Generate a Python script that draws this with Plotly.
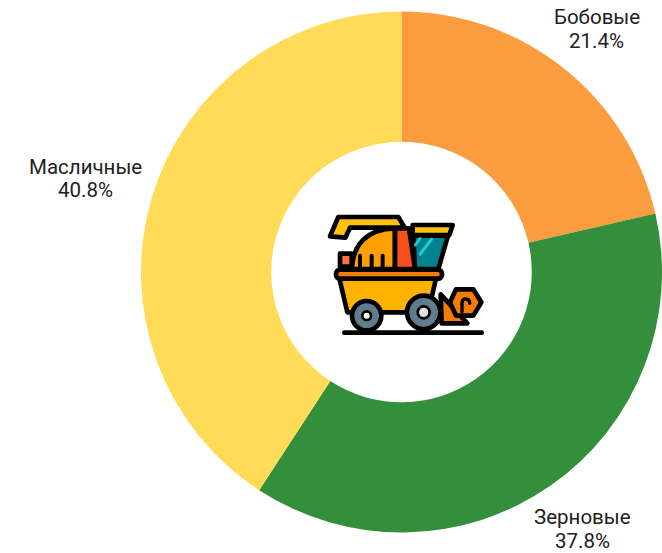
import base64
import plotly.graph_objects as go

# Crop groups and their shares of the sown area, percent
crops = ["Бобовые", "Зерновые", "Масличные"]
shares = [21.4, 37.8, 40.8]
colors = ["#FB9D3F", "#348F3C", "#FFDB58"]

# Pixel centres of each caption: name line, then value line
caption_x = [596.5, 582.5, 85]
name_y = [17, 517, 167]
value_y = [41, 540.5, 190]

# Harvester pictogram placed in the hole of the donut
HARVESTER_SVG = """
<svg xmlns="http://www.w3.org/2000/svg" viewBox="0 0 570 450" width="570" height="450">
<defs><filter id="s"><feGaussianBlur stdDeviation="2.2"/></filter></defs>
<g filter="url(#s)" stroke="#000" stroke-width="14" stroke-linejoin="round" stroke-linecap="round">
<path d="M103 413H515" fill="none"/>
<path d="M60 124L85 66H265L284 98H120L106 128Z" fill="#FFC107"/>
<path d="M90 215V176H125V215Z" fill="#FF7043"/>
<path d="M126 222C128 150 170 102 255 100V222Z" fill="#FFA000"/>
<path d="M150 215V182M185 215V182M218 215V182" fill="none" stroke-width="12"/>
<path d="M255 100H297L315 222H255Z" fill="#F4511E"/>
<path d="M310 122H414L385 222H315Z" fill="#00838F"/>
<path d="M316 150L330 130M330 178L365 132" fill="none" stroke="#26C6DA" stroke-width="9"/>
<path d="M308 90H428L418 120H308Z" fill="#FFC107"/>
<path d="M392 298L472 385H395Z" fill="#F57C00"/>
<path d="M438 283H490L514 322L490 362H438L420 322Z" fill="#F57C00"/>
<path d="M456 350V324Q456 312 467 312Q479 312 479 325" fill="none" stroke-width="10"/>
<path d="M88 250H378L355 352H112Z" fill="#FFB300"/>
<rect x="78" y="224" width="318" height="27" rx="12" fill="#F57C00"/>
<circle cx="170" cy="362" r="44" fill="#607D8B"/>
<circle cx="170" cy="362" r="13" fill="#fff" stroke-width="8"/>
<circle cx="341" cy="352" r="50" fill="#607D8B"/>
<circle cx="341" cy="352" r="18" fill="#E0E0E0" stroke-width="8"/>
</g></svg>
"""
icon_uri = "data:image/svg+xml;base64," + base64.b64encode(HARVESTER_SVG.encode()).decode()

WIDTH, HEIGHT = 662, 553
LABEL_FONT = dict(family="Roboto", size=20.5, color="#212121")


def caption(text, px, py):
    """Single centred text line positioned in pixels from the top-left corner."""
    return dict(
        text=text,
        xref="paper",
        yref="paper",
        x=px / WIDTH,
        y=1 - py / HEIGHT,
        xanchor="center",
        yanchor="middle",
        showarrow=False,
        font=LABEL_FONT,
    )


annotations = []
for crop, share, cx, ny, vy in zip(crops, shares, caption_x, name_y, value_y):
    annotations.append(caption(crop, cx, ny))
    annotations.append(caption(f"{share}%", cx, vy))

fig = go.Figure(
    go.Pie(
        labels=crops,
        values=shares,
        hole=0.5,
        sort=False,
        direction="clockwise",
        rotation=0,
        marker=dict(colors=colors, line=dict(width=0)),
        textinfo="none",
        domain=dict(x=[141 / WIDTH, 1.0], y=[20 / HEIGHT, 542 / HEIGHT]),
        showlegend=False,
    )
)

fig.update_layout(
    width=WIDTH,
    height=HEIGHT,
    margin=dict(l=0, r=0, t=0, b=0),
    paper_bgcolor="white",
    annotations=annotations,
    images=[
        dict(
            source=icon_uri,
            xref="paper",
            yref="paper",
            x=310 / WIDTH,
            y=1 - 195 / HEIGHT,
            sizex=190 / WIDTH,
            sizey=150 / HEIGHT,
            xanchor="left",
            yanchor="top",
            layer="above",
        )
    ],
)

fig.write_html("out.html")
